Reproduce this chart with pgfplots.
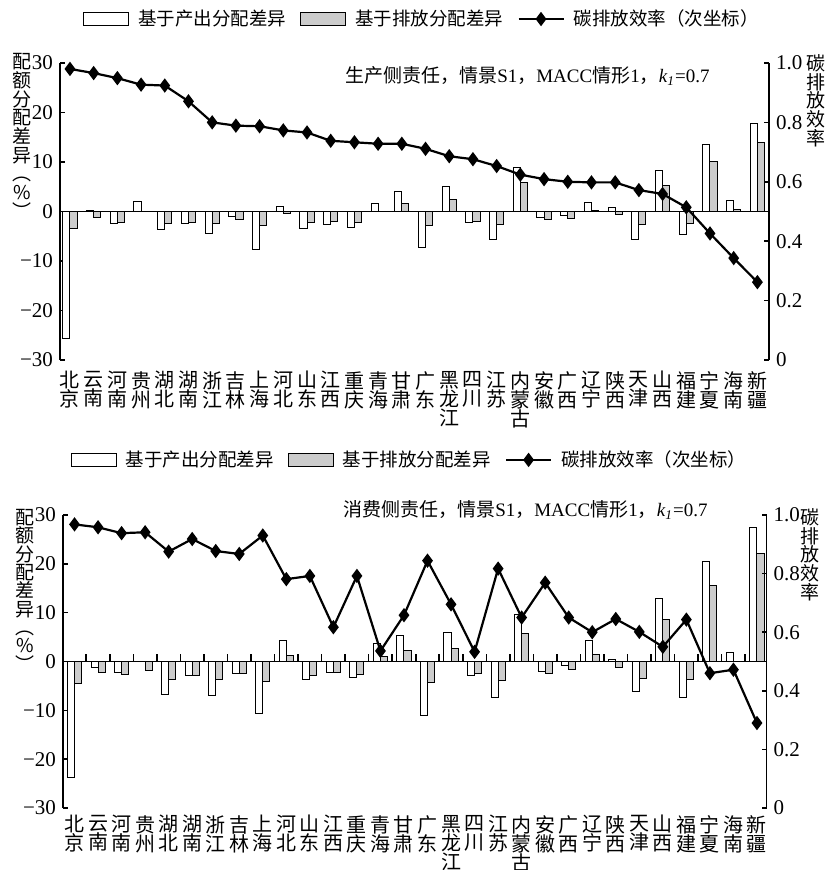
\documentclass[border=0pt]{standalone}
\usepackage{pgfplots}
\pgfplotsset{compat=1.18}
\usepackage{pgfplotstable}
\usepackage{fontspec}
\setmainfont{Liberation Serif}
\newfontfamily\cjk{Noto Sans CJK SC}
\newcommand\tightlines{\lineskiplimit-20pt\relax}

\pgfplotstableread{
x a b e
0 -25.6 -3.4 0.980
1 0.2 -1.3 0.966
2 -2.4 -2.2 0.949
3 2.0 0.0 0.927
4 -3.6 -2.4 0.924
5 -2.4 -2.2 0.871
6 -4.4 -2.5 0.800
7 -1.0 -1.7 0.789
8 -7.6 -2.9 0.787
9 1.1 -0.5 0.773
10 -3.4 -2.2 0.766
11 -2.6 -2.0 0.738
12 -3.2 -2.2 0.733
13 1.6 -0.1 0.728
14 4.0 1.7 0.728
15 -7.3 -2.8 0.711
16 5.1 2.5 0.686
17 -2.2 -2.0 0.676
18 -5.6 -2.6 0.653
19 8.8 5.8 0.624
20 -1.3 -1.6 0.609
21 -0.9 -1.4 0.600
22 1.9 0.2 0.598
23 0.9 -0.7 0.598
24 -5.6 -2.6 0.572
25 8.3 5.3 0.559
26 -4.6 -2.5 0.514
27 13.5 10.1 0.426
28 2.2 0.5 0.343
29 17.7 14.0 0.262
}\prodtab

\pgfplotstableread{
x a b e
0 -23.7 -4.6 0.968
1 -1.2 -2.2 0.958
2 -2.2 -2.6 0.938
3 -0.1 -1.8 0.941
4 -6.7 -3.6 0.875
5 -2.9 -2.8 0.918
6 -7.0 -3.6 0.877
7 -2.5 -2.5 0.867
8 -10.7 -4.1 0.930
9 4.2 1.2 0.781
10 -3.6 -2.8 0.792
11 -2.3 -2.3 0.617
12 -3.3 -2.7 0.792
13 3.7 1.0 0.536
14 5.3 2.2 0.658
15 -11.1 -4.2 0.844
16 6.0 2.6 0.695
17 -2.9 -2.5 0.533
18 -7.3 -3.8 0.817
19 9.7 5.7 0.650
20 -2.0 -2.4 0.769
21 -0.9 -1.7 0.650
22 4.2 1.4 0.600
23 0.4 -1.2 0.645
24 -6.2 -3.4 0.601
25 12.9 8.6 0.550
26 -7.3 -3.6 0.643
27 20.4 15.5 0.460
28 1.8 0.0 0.472
29 27.5 22.2 0.290
}\constab

\pgfplotsset{
  provlabels/.style={xticklabels={{北\\京},{云\\南},{河\\南},{贵\\州},{湖\\北},{湖\\南},{浙\\江},{吉\\林},{上\\海},{河\\北},{山\\东},{江\\西},{重\\庆},{青\\海},{甘\\肃},{广\\东},{黑\\龙\\江},{四\\川},{江\\苏},{内\\蒙\\古},{安\\徽},{广\\西},{辽\\宁},{陕\\西},{天\\津},{山\\西},{福\\建},{宁\\夏},{海\\南},{新\\疆}}},
  primstyle/.style={
    scale only axis,
    ymin=-30, ymax=30,
    ytick={-30,-20,-10,0,10,20,30},
    yticklabels={−30,−20,−10,0,10,20,30},
    axis y line*=left, axis x line*=bottom,
    x axis line style={draw=none},
    xtick={0,...,29}, provlabels,
    x tick style={draw=none},
    tick align=inside, major tick length=2.5pt,
    y axis line style={line width=0.8pt},
    y tick style={line width=0.8pt, black},
    x tick label style={align=center, font={\cjk\fontsize{10}{9.5}\selectfont\tightlines}, inner sep=1pt},
    y tick label style={font=\fontsize{10.5}{12}\selectfont},
    extra y ticks={0}, extra y tick labels={},
    extra y tick style={grid=major, major grid style={black, line width=0.8pt}, major tick length=0pt},
  },
  secstyle/.style={
    scale only axis,
    ymin=0, ymax=1,
    axis x line=none, axis y line*=right,
    ytick={0,0.2,0.4,0.6,0.8,1.0},
    yticklabels={0,0.2,0.4,0.6,0.8,1.0},
    tick align=inside, major tick length=2.5pt,
    y axis line style={line width=0.8pt},
    y tick style={line width=0.8pt, black},
    y tick label style={font=\fontsize{10.5}{12}\selectfont},
    legend columns=3,
    legend cell align=left,
  },
  whitebar/.style={ybar, bar width=0.3, bar shift=-0.15, fill=white, draw=black, line width=0.5pt},
  graybar/.style={ybar, bar width=0.3, bar shift=0.15, fill=black!20, draw=black, line width=0.5pt},
  effline/.style={black, line width=1.1pt, mark=diamond*, mark size=2.7pt, mark options={fill=black, solid},
    legend image code/.code={\draw[mark repeat=2,mark phase=2,##1] plot coordinates {(0pt,0pt) (11.25pt,0pt) (22.5pt,0pt)};}},
  legstyle/.style={draw=none, fill=none, font=\cjk\fontsize{9.25}{11}\selectfont,
    /tikz/every odd column/.append style={column sep=2.5pt},
    /tikz/every even column/.append style={column sep=5pt}},
}

\begin{document}
\begin{tikzpicture}
\useasboundingbox (0pt,0pt) rectangle (413pt,435pt);

% ---------------- top panel ----------------
\begin{axis}[primstyle, at={(30pt,255pt)}, anchor=south west,
  width=354.5pt, height=148.5pt, xmin=-0.42, xmax=29.49,
  x tick label style={yshift=-4.5pt}]
\addplot[whitebar] table[x=x, y=a]{\prodtab};
\addplot[graybar] table[x=x, y=b]{\prodtab};
\end{axis}
\begin{axis}[secstyle, at={(30pt,255pt)}, anchor=south west,
  width=354.5pt, height=148.5pt, xmin=-0.42, xmax=29.49,
  legend style={legstyle, at={(axis description cs:0.512,1.148)}, anchor=center}]
\addlegendimage{legend image code/.code={\draw[fill=white, draw=black, line width=0.5pt] (0pt,-3.3pt) rectangle (22.5pt,3.3pt);}}
\addlegendentry{基于产出分配差异}
\addlegendimage{legend image code/.code={\draw[fill=black!20, draw=black, line width=0.5pt] (0pt,-3.3pt) rectangle (22.5pt,3.3pt);}}
\addlegendentry{基于排放分配差异}
\addplot[effline] table[x=x, y=e]{\prodtab};
\addlegendentry{碳排放效率（次坐标）}
\end{axis}

\node[anchor=east, inner sep=0pt, font=\fontsize{9.5}{11}\selectfont] at (355pt,397pt)
  {{\cjk 生产侧责任，情景}S1{\cjk ，}MACC{\cjk 情形}1{\cjk ，}\textit{k}\textsubscript{\textit{1}}=0.7};
\node[anchor=north, align=center, inner sep=0pt, font={\cjk\fontsize{9.5}{9.35}\selectfont\tightlines}]
  at (11pt,408.5pt) {配\\额\\分\\配\\差\\异\\︵\\\%\\︶};
\node[anchor=north, align=center, inner sep=0pt, font={\cjk\fontsize{9.5}{9.4}\selectfont\tightlines}]
  at (408pt,408pt) {碳\\排\\放\\效\\率};

% ---------------- bottom panel ----------------
\begin{axis}[primstyle, at={(31.5pt,31pt)}, anchor=south west,
  width=351.8pt, height=146.5pt, xmin=-0.49, xmax=29.41,
  x tick label style={yshift=-2.5pt}]
\addplot[whitebar] table[x=x, y=a]{\constab};
\addplot[graybar] table[x=x, y=b]{\constab};
\addplot[only marks, mark=|, mark size=1.85pt, mark options={line width=0.8pt, black}, forget plot]
  coordinates {(0.5,0.76) (1.5,0.76) (2.5,0.76) (3.5,0.76) (4.5,0.76) (5.5,0.76) (6.5,0.76) (7.5,0.76) (8.5,0.76) (9.5,0.76)
  (10.5,0.76) (11.5,0.76) (12.5,0.76) (13.5,0.76) (14.5,0.76) (15.5,0.76) (16.5,0.76) (17.5,0.76) (18.5,0.76) (19.5,0.76)
  (20.5,0.76) (21.5,0.76) (22.5,0.76) (23.5,0.76) (24.5,0.76) (25.5,0.76) (26.5,0.76) (27.5,0.76) (28.5,0.76)};
\end{axis}
\begin{axis}[secstyle, at={(31.5pt,31pt)}, anchor=south west,
  width=351.8pt, height=146.5pt, xmin=-0.49, xmax=29.41,
  legend style={legstyle, at={(axis description cs:0.494,1.188)}, anchor=center}]
\addlegendimage{legend image code/.code={\draw[fill=white, draw=black, line width=0.5pt] (0pt,-3.3pt) rectangle (22.5pt,3.3pt);}}
\addlegendentry{基于产出分配差异}
\addlegendimage{legend image code/.code={\draw[fill=black!20, draw=black, line width=0.5pt] (0pt,-3.3pt) rectangle (22.5pt,3.3pt);}}
\addlegendentry{基于排放分配差异}
\addplot[effline] table[x=x, y=e]{\constab};
\addlegendentry{碳排放效率（次坐标）}
\end{axis}

\node[anchor=east, inner sep=0pt, font=\fontsize{9.5}{11}\selectfont] at (354pt,180pt)
  {{\cjk 消费侧责任，情景}S1{\cjk ，}MACC{\cjk 情形}1{\cjk ，}\textit{k}\textsubscript{\textit{1}}=0.7};
\node[anchor=north, align=center, inner sep=0pt, font={\cjk\fontsize{9.5}{9.15}\selectfont\tightlines}]
  at (12.5pt,180.5pt) {配\\额\\分\\配\\差\\异\\︵\\\%\\︶};
\node[anchor=north, align=center, inner sep=0pt, font={\cjk\fontsize{9.5}{9.4}\selectfont\tightlines}]
  at (405pt,181pt) {碳\\排\\放\\效\\率};
\end{tikzpicture}
\end{document}
